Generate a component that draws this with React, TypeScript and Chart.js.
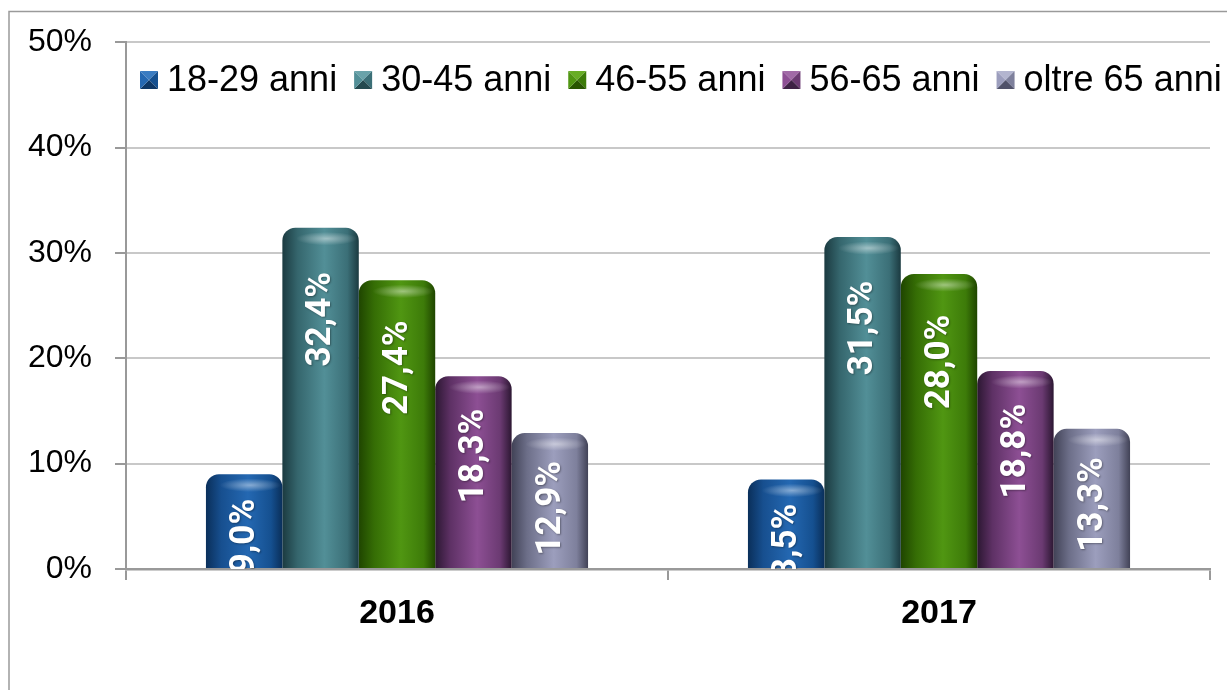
import React, { useEffect, useRef } from "react";
import { Chart, registerables } from "chart.js";

Chart.register(...registerables);

const categories = ["2016", "2017"];
const seriesLabels = ["18-29 anni", "30-45 anni", "46-55 anni", "56-65 anni", "oltre 65 anni"];
const s18to29 = [9.0, 8.5];
const s30to45 = [32.4, 31.5];
const s46to55 = [27.4, 28.0];
const s56to65 = [18.3, 18.8];
const sOver65 = [12.9, 13.3];
const yTickValues = [0, 10, 20, 30, 40, 50];

const seriesValues = [s18to29, s30to45, s46to55, s56to65, sOver65];

const palettes = [
  { dark: "#0a2f5a", mid: "#174f8f", light: "#2468b2", right: "#155090", top: "#3a7cc2", bottom: "#0d3766" },
  { dark: "#1b3a40", mid: "#35666d", light: "#528f97", right: "#3b6f77", top: "#6aa3aa", bottom: "#244a50" },
  { dark: "#1f4500", mid: "#356d05", light: "#509612", right: "#3d7b09", top: "#68ad25", bottom: "#285600" },
  { dark: "#2c1732", mid: "#5e3165", light: "#8d4f94", right: "#6b3a72", top: "#a16aa7", bottom: "#3e2245" },
  { dark: "#414256", mid: "#6c6e88", light: "#9c9ebd", right: "#7e809c", top: "#b3b5cf", bottom: "#50526a" },
];

const CAT_PCT = 0.705;
const LABEL_FONT = "'Liberation Sans', Arial, sans-serif";

function barGradient(ctx: any, p: any) {
  const chart = ctx.chart;
  const xs = chart.scales && chart.scales.x;
  if (!xs || ctx.type !== "data" || !chart.chartArea) return p.mid;
  const n = seriesLabels.length;
  const catW = (xs.right - xs.left) / categories.length;
  const center = xs.getPixelForValue(ctx.dataIndex);
  const groupW = catW * CAT_PCT;
  const barW = groupW / n;
  const left = center - groupW / 2 + ctx.datasetIndex * barW;
  const g = chart.ctx.createLinearGradient(left, 0, left + barW, 0);
  g.addColorStop(0, p.dark);
  g.addColorStop(0.2, p.mid);
  g.addColorStop(0.55, p.light);
  g.addColorStop(0.85, p.right);
  g.addColorStop(1, p.dark);
  return g;
}

const framePlugin = {
  id: "frame",
  beforeDraw(chart: any) {
    const c = chart.ctx;
    c.save();
    c.fillStyle = "#ffffff";
    c.fillRect(0, 0, chart.width, chart.height);
    c.strokeStyle = "#9a9a9a";
    c.lineWidth = 1.5;
    c.beginPath();
    c.moveTo(9, chart.height);
    c.lineTo(9, 11.5);
    c.lineTo(chart.width, 11.5);
    c.stroke();
    c.restore();
  },
};

const barDecorPlugin = {
  id: "barDecor",
  afterDatasetsDraw(chart: any) {
    const c = chart.ctx;
    const area = chart.chartArea;
    chart.data.datasets.forEach((ds: any, di: number) => {
      const meta = chart.getDatasetMeta(di);
      meta.data.forEach((el: any, i: number) => {
        const { x, y, base, width } = el.getProps(["x", "y", "base", "width"], true);
        // top highlight
        c.save();
        c.beginPath();
        c.rect(x - width / 2, y, width, base - y);
        c.clip();
        c.translate(x + width * 0.08, y + 11);
        c.scale(1, 0.22);
        const rg = c.createRadialGradient(0, 0, 0, 0, 0, width * 0.4);
        rg.addColorStop(0, "rgba(255,255,255,0.45)");
        rg.addColorStop(1, "rgba(255,255,255,0)");
        c.fillStyle = rg;
        c.beginPath();
        c.arc(0, 0, width * 0.4, 0, Math.PI * 2);
        c.fill();
        c.restore();

        // value label
        const v = ds.data[i];
        const text = v.toFixed(1).replace(".", ",") + "%";
        const h = base - y;
        const gap = 17 + 0.08 * h;
        c.save();
        c.beginPath();
        c.rect(area.left, area.top, area.right - area.left, area.bottom - area.top);
        c.clip();
        c.translate(x + 1, y + gap);
        c.rotate(-Math.PI / 2);
        c.font = "bold 35px Roboto, 'Liberation Sans', sans-serif";
        c.textAlign = "right";
        c.textBaseline = "middle";
        c.shadowColor = "rgba(0,0,0,0.35)";
        c.shadowBlur = 2;
        c.shadowOffsetX = 1;
        c.shadowOffsetY = 1;
        c.fillStyle = "#ffffff";
        c.fillText(text, 0, 0);
        c.restore();
      });
    });
  },
};

const legendPlugin = {
  id: "customLegend",
  afterDraw(chart: any) {
    const c = chart.ctx;
    c.save();
    c.font = "36px " + LABEL_FONT;
    c.textBaseline = "middle";
    c.textAlign = "left";
    let x = 140;
    const cy = 80;
    const s = 18;
    chart.data.datasets.forEach((ds: any, di: number) => {
      const p = palettes[di];
      const x0 = x;
      const y0 = cy - s / 2;
      const cx = x0 + s / 2;
      const cyy = y0 + s / 2;
      const tri = (ax: number, ay: number, bx: number, by: number, col: string) => {
        c.fillStyle = col;
        c.beginPath();
        c.moveTo(ax, ay);
        c.lineTo(bx, by);
        c.lineTo(cx, cyy);
        c.closePath();
        c.fill();
      };
      tri(x0, y0, x0 + s, y0, p.top);
      tri(x0 + s, y0, x0 + s, y0 + s, p.right);
      tri(x0 + s, y0 + s, x0, y0 + s, p.bottom);
      tri(x0, y0 + s, x0, y0, p.light);
      x += s + 9;
      c.fillStyle = "#000000";
      c.fillText(ds.label, x, cy + 1);
      x += c.measureText(ds.label).width + 17;
    });
    c.restore();
  },
};

export default function App() {
  const ref = useRef<HTMLCanvasElement | null>(null);

  useEffect(() => {
    if (!ref.current) return;
    const datasets = seriesLabels.map((label, i) => ({
      label,
      data: seriesValues[i],
      backgroundColor: (ctx: any) => barGradient(ctx, palettes[i]),
      borderWidth: 0,
      borderRadius: { topLeft: 13, topRight: 13, bottomLeft: 0, bottomRight: 0 },
      borderSkipped: false,
      categoryPercentage: CAT_PCT,
      barPercentage: 1,
    }));

    const chart = new Chart(ref.current, {
      type: "bar",
      data: { labels: categories, datasets },
      options: {
        responsive: false,
        animation: false,
        devicePixelRatio: 1,
        layout: { padding: { left: 0, right: 17, top: 39, bottom: 0 } },
        plugins: {
          legend: { display: false },
          tooltip: { enabled: false },
        },
        scales: {
          x: {
            offset: true,
            grid: {
              display: true,
              drawOnChartArea: false,
              drawTicks: true,
              tickLength: 11,
              color: "#999999",
              lineWidth: 2,
              offset: true,
            },
            border: { display: true, color: "#999999", width: 2.5 },
            ticks: {
              font: { family: LABEL_FONT, size: 34, weight: "bold" },
              color: "#000000",
              padding: 13,
            },
            afterFit: (scale: any) => {
              scale.height = 121;
            },
          },
          y: {
            min: 0,
            max: 50,
            afterBuildTicks: (scale: any) => {
              scale.ticks = yTickValues.map((v) => ({ value: v }));
            },
            grid: {
              color: "#c8c8c8",
              lineWidth: 2,
              tickColor: "#999999",
              tickLength: 11,
              drawTicks: true,
            },
            border: { display: true, color: "#999999", width: 2 },
            ticks: {
              font: { family: LABEL_FONT, size: 32 },
              color: "#000000",
              padding: 23,
              callback: (v: any) => v + "%",
            },
            afterFit: (scale: any) => {
              scale.width = 126;
            },
          },
        },
      },
      plugins: [framePlugin, barDecorPlugin, legendPlugin],
    });
    return () => chart.destroy();
  }, []);

  return (
    <div style={{ position: "absolute", left: 0, top: 0, width: 1227, height: 690 }}>
      <canvas ref={ref} width={1227} height={690} style={{ width: 1227, height: 690, display: "block" }} />
    </div>
  );
}
